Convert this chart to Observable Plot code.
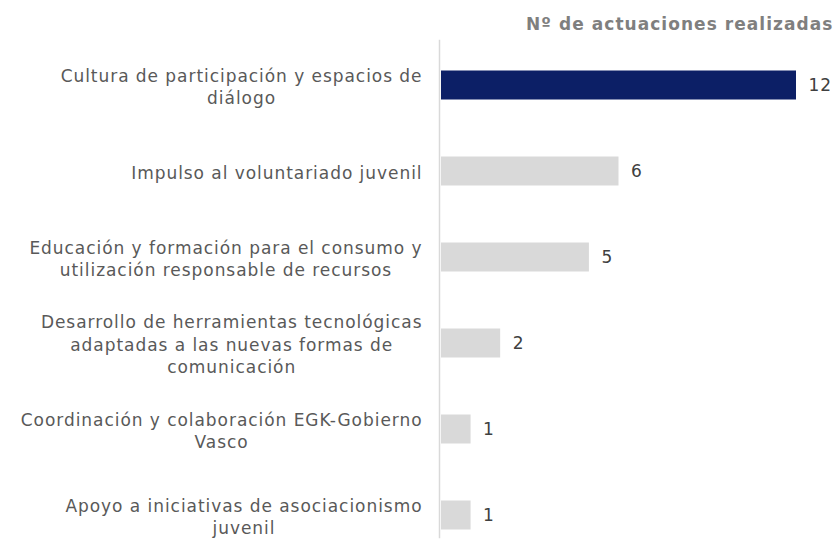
<!DOCTYPE html>
<html>
<head>
<meta charset="utf-8">
<script src="https://cdn.jsdelivr.net/npm/d3@7"></script>
<script src="https://cdn.jsdelivr.net/npm/@observablehq/plot@0.6"></script>
<style>
  html, body { margin: 0; padding: 0; background: #fff; }
</style>
</head>
<body>
<div id="chart"></div>
<script>
const categories = [
  "Cultura de participación y espacios de\ndiálogo",
  "Impulso al voluntariado juvenil",
  "Educación y formación para el consumo y\nutilización responsable de recursos",
  "Desarrollo de herramientas tecnológicas\nadaptadas a las nuevas formas de\ncomunicación",
  "Coordinación y colaboración EGK-Gobierno\nVasco",
  "Apoyo a iniciativas de asociacionismo\njuvenil"
];
const values = [12, 6, 5, 2, 1, 1];
const highlight = [true, false, false, false, false, false];
const title = "Nº de actuaciones realizadas";

const data = categories.map((c, i) => ({cat: c, value: values[i], hl: highlight[i]}));

const FONT = "DejaVu Sans";
const FS = 17;
const LS = 0.95;

// measure label block widths to centre lines within each right-aligned block
const ctx = document.createElement("canvas").getContext("2d");
ctx.font = `${FS}px "${FONT}"`;
function blockWidth(s) {
  return d3.max(s.split("\n"), l => ctx.measureText(l).width + LS * l.length);
}

const labelMarks = categories.map(c => Plot.text([c], {
  y: d => d,
  text: d => d,
  frameAnchor: "left",
  textAnchor: "middle",
  lineAnchor: "middle",
  lineHeight: 1.3,
  dx: -17 - blockWidth(c) / 2,
  fill: "#595959",
  fontSize: FS
}));

const chart = Plot.plot({
  width: 837,
  height: 542,
  marginLeft: 439,
  marginRight: 0,
  marginTop: 40,
  marginBottom: 5,
  style: {fontFamily: FONT, fontSize: FS + "px", letterSpacing: LS + "px", background: "#fff"},
  x: {domain: [0, 12], range: [441, 796], axis: null},
  y: {domain: categories, range: [42, 558], padding: 0, axis: null},
  marks: [
    Plot.frame({anchor: "left", stroke: "#d9d9d9", strokeWidth: 1.5}),
    Plot.barX(data, {
      x: "value",
      y: "cat",
      fill: d => d.hl ? "#0c1f66" : "#d9d9d9",
      insetTop: 28.5,
      insetBottom: 28.5
    }),
    Plot.text(data, {
      x: "value",
      y: "cat",
      text: d => String(d.value),
      textAnchor: "start",
      dx: 12,
      fill: "#404040",
      fontSize: FS
    }),
    ...labelMarks,
    Plot.text([title], {
      frameAnchor: "top-right",
      text: d => d,
      dx: -4,
      dy: -23,
      fontWeight: "bold",
      fill: "#7f7f7f",
      fontSize: 17
    })
  ]
});

document.getElementById("chart").appendChild(chart);
d3.select(chart).selectAll("text").filter(function() { return this.textContent === title; })
  .style("letter-spacing", "1.05px");
</script>
</body>
</html>
